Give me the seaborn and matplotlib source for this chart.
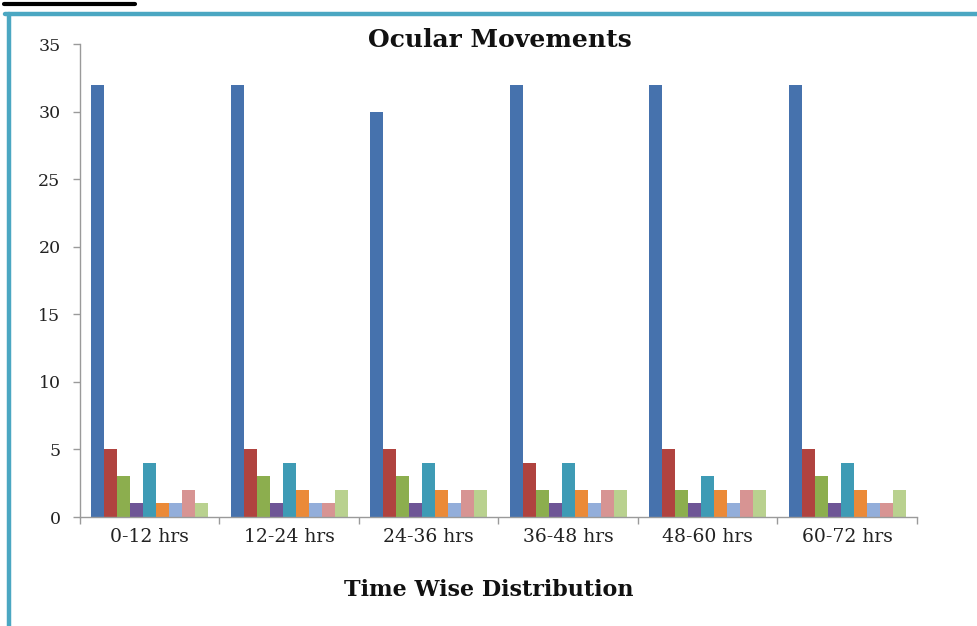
import matplotlib
matplotlib.use("Agg")
import matplotlib.pyplot as plt
import seaborn as sns
import pandas as pd
from matplotlib.lines import Line2D

# Time windows and counts for each type of ocular movement
periods = ["0-12 hrs", "12-24 hrs", "24-36 hrs", "36-48 hrs", "48-60 hrs", "60-72 hrs"]
series_names = ["S1", "S2", "S3", "S4", "S5", "S6", "S7", "S8", "S9"]
s1 = [32, 32, 30, 32, 32, 32]
s2 = [5, 5, 5, 4, 5, 5]
s3 = [3, 3, 3, 2, 2, 3]
s4 = [1, 1, 1, 1, 1, 1]
s5 = [4, 4, 4, 4, 3, 4]
s6 = [1, 2, 2, 2, 2, 2]
s7 = [1, 1, 1, 1, 1, 1]
s8 = [2, 1, 2, 2, 2, 1]
s9 = [1, 2, 2, 2, 2, 2]
y_ticks = [0, 5, 10, 15, 20, 25, 30, 35]

palette = ["#4672AD", "#B0433F", "#8CAE4E", "#6E5596", "#3E9BB5",
           "#EB8A38", "#93AEDA", "#D79493", "#B9D18F"]

all_series = [s1, s2, s3, s4, s5, s6, s7, s8, s9]
rows = []
for name, vals in zip(series_names, all_series):
    for p, v in zip(periods, vals):
        rows.append({"period": p, "series": name, "count": v})
df = pd.DataFrame(rows)

sns.set_theme(style="white")
plt.rcParams["font.family"] = ["DejaVu Serif", "Liberation Serif"]

fig = plt.figure(figsize=(9.78, 6.26), dpi=100)
ax = fig.add_axes([0.0818, 0.1741, 0.8558, 0.7556])

sns.barplot(data=df, x="period", y="count", hue="series", order=periods,
            hue_order=series_names, palette=palette, width=0.84,
            saturation=1, errorbar=None, legend=False, ax=ax,
            linewidth=0)

ax.set_xlim(-0.5, len(periods) - 0.5)
ax.set_ylim(0, 35)
ax.set_yticks(y_ticks)
ax.set_yticklabels([str(t) for t in y_ticks], fontsize=12.5, color="#222222")
ax.set_xticks(range(len(periods)))
ax.set_xticklabels(periods, fontsize=13.5, color="#222222")
ax.set_xticks([i - 0.5 for i in range(len(periods) + 1)], minor=True)
ax.tick_params(axis="x", which="major", length=0, pad=8)
ax.tick_params(axis="x", which="minor", length=5, color="#9a9a9a", width=1, direction="out", bottom=True)
ax.tick_params(axis="y", length=5, color="#9a9a9a", width=1, direction="out", pad=9, left=True)

for side in ["top", "right"]:
    ax.spines[side].set_visible(False)
for side in ["left", "bottom"]:
    ax.spines[side].set_color("#9a9a9a")
    ax.spines[side].set_linewidth(1)

ax.set_xlabel("")
ax.set_ylabel("")
fig.text(0.5, 1 - 590 / 626, "Time Wise Distribution", ha="center", va="center",
         fontsize=16, fontweight="bold", color="#111111")
fig.text(0.511, 1 - 40 / 626, "Ocular Movements", ha="center", va="center",
         fontsize=18, fontweight="bold", color="#111111")

# Frame around the chart area
fig.add_artist(Line2D([0.005, 1.0], [0.977, 0.977], transform=fig.transFigure,
                      color="#4BA7C2", linewidth=3.2))
fig.add_artist(Line2D([0.0097, 0.0097], [0.0, 0.977], transform=fig.transFigure,
                      color="#4BA7C2", linewidth=3.2))
fig.add_artist(Line2D([0.004, 0.138], [0.993, 0.993], transform=fig.transFigure,
                      color="#000000", linewidth=3))

fig.savefig("out.png", dpi=100, facecolor="white")
